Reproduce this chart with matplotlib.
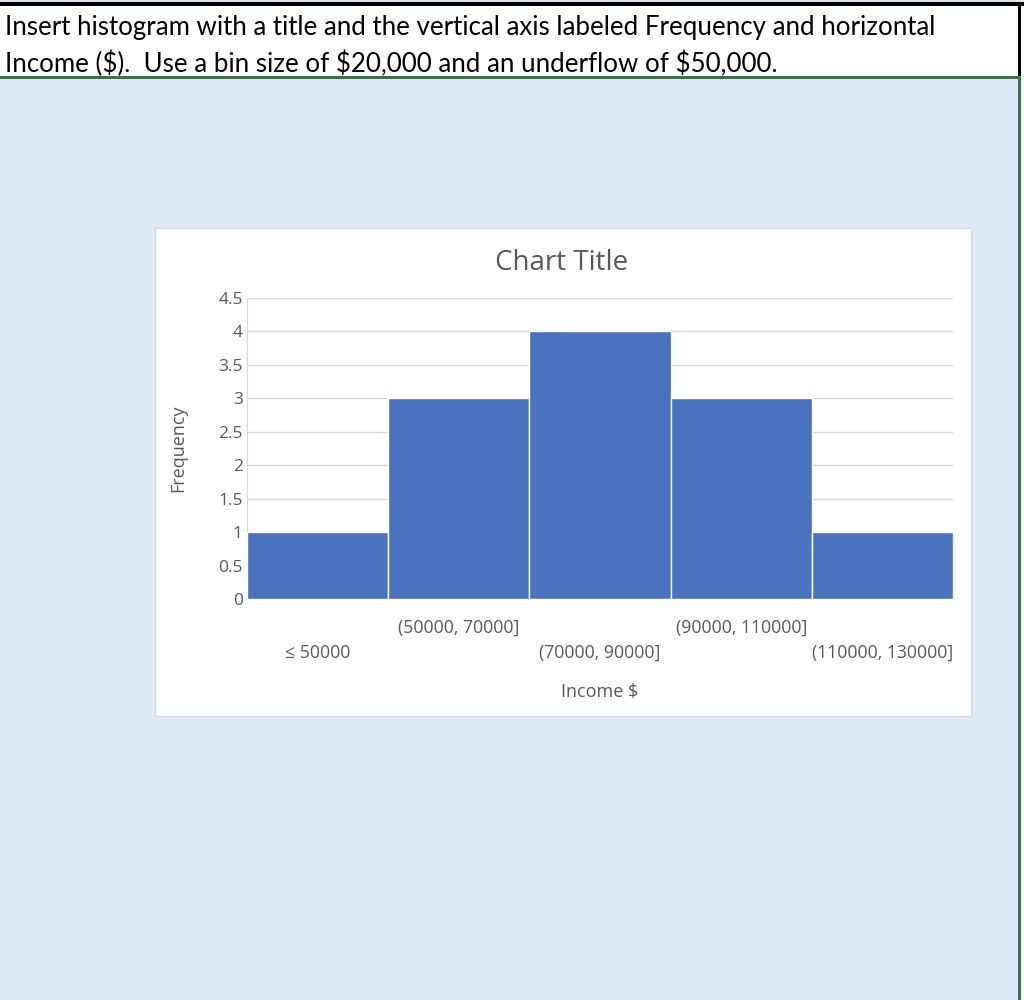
import matplotlib
matplotlib.use("Agg")
import matplotlib.pyplot as plt
from matplotlib.patches import Rectangle

# data
bins = ["\u2264 50000", "(50000, 70000]", "(70000, 90000]", "(90000, 110000]", "(110000, 130000]"]
freq = [1, 3, 4, 3, 1]
yticks = [0, 0.5, 1, 1.5, 2, 2.5, 3, 3.5, 4, 4.5]

W, H = 1024, 1000
plt.rcParams['font.family'] = ['Open Sans', 'DejaVu Sans']
fig = plt.figure(figsize=(W / 100, H / 100), dpi=100)
fig.patch.set_facecolor('white')


def px_rect(x0, y0, x1, y1, z=1, **kw):
    # rectangle in pixel coords (y from top)
    r = Rectangle((x0 / W, 1 - y1 / H), (x1 - x0) / W, (y1 - y0) / H,
                  transform=fig.transFigure, zorder=z, **kw)
    fig.add_artist(r)
    return r


# header box
px_rect(0, 0, W, 2, facecolor='#DCE3EC', edgecolor='none')
px_rect(0, 2, W, 6, facecolor='black', edgecolor='none')
px_rect(1018, 2, 1021, 78, facecolor='black', edgecolor='none')
hdr_font = ['Lato', 'DejaVu Sans']
fig.text(5 / W, 1 - 28 / H, "Insert histogram with a title and the vertical axis labeled Frequency and horizontal",
         fontsize=18.6, va='center', ha='left', color='black', family=hdr_font)
fig.text(5 / W, 1 - 64 / H, "Income ($).  Use a bin size of $20,000 and an underflow of $50,000.",
         fontsize=18.6, va='center', ha='left', color='black', family=hdr_font)

# sheet background
px_rect(0, 79, 1018, H, facecolor='#DEEAF6', edgecolor='none')
px_rect(0, 76, 1021, 79, facecolor='#3E7049', edgecolor='none')
px_rect(1018, 76, 1021, H, facecolor='#3E7049', edgecolor='none')

# chart area
px_rect(155, 228, 971, 716, facecolor='white', edgecolor='#D9D9D9', lw=1)

ax = fig.add_axes([247 / W, 1 - 599 / H, (953 - 247) / W, (599 - 298) / H])
ax.set_zorder(5)
ax.set_facecolor('none')
x = list(range(len(bins)))
ax.bar(x, freq, width=1.0, color='#4A72BE', edgecolor='white', linewidth=1, zorder=3)
ax.set_xlim(-0.5, len(bins) - 0.5)
ax.set_ylim(0, 4.5)
ax.set_yticks(yticks)
ax.set_yticklabels([f"{v:g}" for v in yticks])
ax.yaxis.grid(True, color='#D9D9D9', lw=1)
ax.set_axisbelow(True)
for s in ['top', 'right', 'bottom']:
    ax.spines[s].set_visible(False)
ax.spines['left'].set_color('#D9D9D9')
ax.tick_params(axis='y', length=0, labelsize=12.5, labelcolor='#595959', pad=3)
ax.set_xticks([])

for i, lab in enumerate(bins):
    yy = -0.18 if i % 2 == 0 else -0.097
    ax.text(i, yy, lab, transform=ax.get_xaxis_transform(), ha='center', va='center',
            fontsize=12.7, color='#595959')

ax.text(0.5, -0.31, "Income $", transform=ax.transAxes, ha='center', va='center',
        fontsize=13, color='#595959')
fig.text(178 / W, 1 - 448 / H, "Frequency", rotation=90, ha='center', va='center',
         fontsize=13, color='#595959', zorder=6)
fig.text(562 / W, 1 - 263 / H, "Chart Title", ha='center', va='center',
         fontsize=20, color='#595959', zorder=6)

fig.savefig("out.png", dpi=100)
